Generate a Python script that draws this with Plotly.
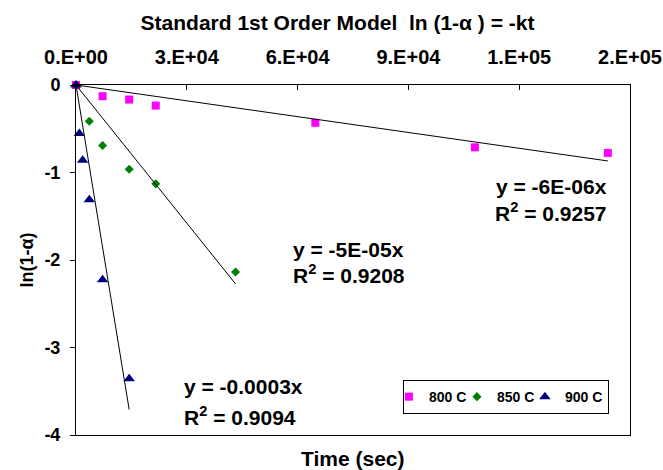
import numpy as np
import plotly.graph_objects as go

# Time (s) and ln(1-alpha) for each isothermal run
t_800 = [0, 7200, 14400, 21600, 64800, 108000, 144000]
y_800 = [0, -0.128, -0.166, -0.235, -0.432, -0.712, -0.776]

t_850 = [0, 3600, 7200, 14400, 21600, 43200]
y_850 = [0, -0.414, -0.692, -0.963, -1.130, -2.137]

t_900 = [0, 900, 1800, 3600, 7200, 14400]
y_900 = [0, -0.555, -0.860, -1.310, -2.225, -3.358]

series_names = ["800 C", "850 C", "900 C"]
x_tickvals = [0, 30000, 60000, 90000, 120000, 150000]
x_ticktext = ["0.E+00", "3.E+04", "6.E+04", "9.E+04", "1.E+05", "2.E+05"]

# trendline labels as reported by the fit
eq_text = ["y = -6E-06x", "y = -5E-05x", "y = -0.0003x"]
r2_text = ["0.9257", "0.9208", "0.9094"]

FONT = "Liberation Sans, Arial, sans-serif"


def slope_through_origin(t, y):
    t = np.asarray(t, float)
    y = np.asarray(y, float)
    return float((t * y).sum() / (t * t).sum())


fig = go.Figure()

styles = [
    dict(symbol="square", color="#FF00FF", size=8),
    dict(symbol="diamond", color="#008000", size=7),
    dict(symbol="triangle-up", color="#000080", size=10),
]
data = [(t_800, y_800), (t_850, y_850), (t_900, y_900)]

for (t, y), name, st in zip(data, series_names, styles):
    fig.add_trace(go.Scatter(
        x=t, y=y, mode="markers", name=name,
        marker=dict(symbol=st["symbol"], color=st["color"], size=st["size"],
                    line=dict(width=0)),
        cliponaxis=False,
    ))

# linear trendlines forced through the origin
for t, y in data:
    k = slope_through_origin(t, y)
    tmax = max(t)
    fig.add_trace(go.Scatter(
        x=[0, tmax], y=[0, k * tmax], mode="lines",
        line=dict(color="black", width=1), showlegend=False,
        hoverinfo="skip", cliponaxis=False,
    ))

ann_font = dict(family=FONT, size=21, color="black", weight="bold")
# (x, y line1, y line2, anchor)
eq_pos = [
    (144300, -1.16, -1.455, "right"),
    (58100, -1.88, -2.16, "left"),
    (28800, -3.446, -3.78, "left"),
]
annotations = []
for (x, y1, y2, anc), e, r in zip(eq_pos, eq_text, r2_text):
    annotations.append(dict(x=x, y=y1, xref="x", yref="y", text=e, showarrow=False,
                            xanchor=anc, yanchor="middle", font=ann_font))
    annotations.append(dict(x=x, y=y2, xref="x", yref="y",
                            text="R<sup>2</sup> = " + r, showarrow=False,
                            xanchor=anc, yanchor="middle", font=ann_font))

annotations.append(dict(x=0.5, y=-0.066, xref="paper", yref="paper", text="Time (sec)",
                        showarrow=False, xanchor="center", yanchor="middle",
                        font=dict(family=FONT, size=21, color="black", weight="bold")))

fig.update_layout(
    width=663, height=470,
    margin=dict(l=76, r=33, t=85, b=35),
    paper_bgcolor="white", plot_bgcolor="white",
    font=dict(family=FONT, color="black", weight="bold"),
    title=dict(text="Standard 1st Order Model  ln (1-α ) = -kt",
               x=337.5 / 663, xanchor="center", xref="container",
               y=1 - 23 / 470, yanchor="middle", yref="container",
               font=dict(family=FONT, size=21, color="black", weight="bold")),
    xaxis=dict(side="top", range=[0, 150000], tickvals=x_tickvals, ticktext=x_ticktext,
               ticks="inside", ticklen=5, tickcolor="black",
               showline=True, linecolor="black", linewidth=1, mirror=True,
               showgrid=False, zeroline=False, automargin=False,
               tickfont=dict(family=FONT, size=20, color="black", weight="bold"),
               ticklabelstandoff=12),
    yaxis=dict(range=[-4, 0], tickvals=[0, -1, -2, -3, -4], ticktext=["0", "-1", "-2", "-3", "-4"],
               ticks="outside", ticklen=5, tickcolor="black",
               showline=True, linecolor="black", linewidth=1, mirror=True,
               showgrid=False, zeroline=False, automargin=False,
               tickfont=dict(family=FONT, size=18, color="black", weight="bold"),
               ticklabelstandoff=6,
               title=dict(text="ln(1-α)", standoff=6,
                          font=dict(family=FONT, size=18, color="black", weight="bold"))),
    legend=dict(orientation="h", x=0.962, xanchor="right", y=0.157, yanchor="top",
                bordercolor="black", borderwidth=1, bgcolor="white",
                font=dict(family=FONT, size=14, color="black", weight="bold"),
                itemwidth=30, indentation=-15, entrywidth=38, tracegroupgap=0),
    annotations=annotations,
    showlegend=True,
)

fig.write_html("out.html")
